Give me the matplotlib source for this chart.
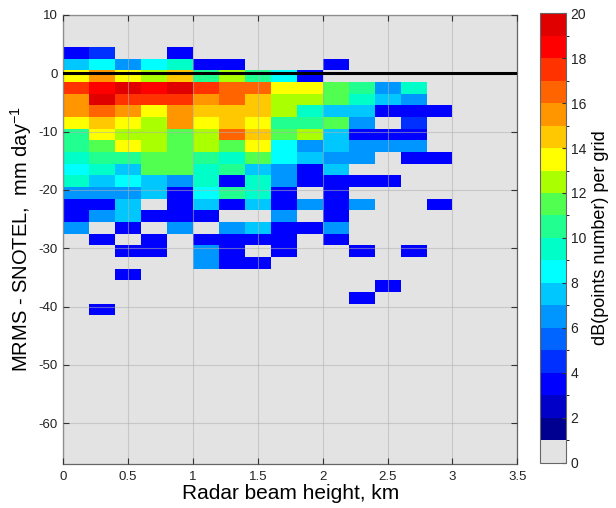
import numpy as np
import matplotlib
matplotlib.use("Agg")
import matplotlib.pyplot as plt
from matplotlib.colors import ListedColormap, BoundaryNorm

plt.rcParams['font.family'] = ['Liberation Sans', 'DejaVu Sans']
plt.rcParams['mathtext.default'] = 'regular'
plt.rcParams['axes.unicode_minus'] = False

# bin edges: radar beam height (km) and MRMS - SNOTEL difference (mm/day)
height_edges = np.arange(0, 3.01, 0.2)
diff_edges = np.arange(4.5, -42.0, -2.0)

# dB(points number) per grid cell, one row per difference bin (top -> bottom),
# one column per height bin (0-0.2 km ... 2.8-3.0 km); 0 = no points
db_grid = [
    [3.5, 4.5, 0, 0, 3.5, 0, 0, 0, 0, 0, 0, 0, 0, 0, 0],
    [7.5, 8.5, 6.5, 8.5, 9.5, 3.5, 3.5, 0, 0, 0, 3.5, 0, 0, 0, 0],
    [13.5, 15.5, 13.5, 12.5, 14.5, 10.5, 12.5, 10.5, 8.5, 3.5, 0, 0, 0, 0, 0],
    [17.5, 18.5, 19.5, 18.5, 19.5, 17.5, 16.5, 16.5, 13.5, 13.5, 11.5, 10.5, 6.5, 9.5, 0],
    [15.5, 19.5, 17.5, 17.5, 17.5, 15.5, 16.5, 14.5, 12.5, 12.5, 11.5, 9.5, 7.5, 6.5, 0],
    [15.5, 16.5, 15.5, 13.5, 15.5, 14.5, 14.5, 14.5, 12.5, 9.5, 7.5, 7.5, 3.5, 3.5, 3.5],
    [13.5, 14.5, 13.5, 12.5, 15.5, 13.5, 14.5, 13.5, 10.5, 10.5, 11.5, 6.5, 0, 4.5, 0],
    [10.5, 13.5, 12.5, 12.5, 11.5, 12.5, 16.5, 14.5, 11.5, 12.5, 7.5, 3.5, 3.5, 3.5, 0],
    [10.5, 11.5, 13.5, 12.5, 11.5, 12.5, 11.5, 13.5, 8.5, 6.5, 7.5, 6.5, 6.5, 6.5, 0],
    [9.5, 10.5, 10.5, 11.5, 11.5, 10.5, 9.5, 11.5, 8.5, 7.5, 6.5, 6.5, 0, 3.5, 3.5],
    [8.5, 9.5, 7.5, 11.5, 11.5, 9.5, 10.5, 7.5, 6.5, 3.5, 7.5, 0, 0, 0, 0],
    [9.5, 7.5, 8.5, 7.5, 6.5, 9.5, 3.5, 9.5, 6.5, 3.5, 3.5, 3.5, 3.5, 0, 0],
    [6.5, 6.5, 6.5, 7.5, 3.5, 8.5, 10.5, 9.5, 3.5, 0, 3.5, 0, 0, 0, 0],
    [3.5, 3.5, 7.5, 0, 3.5, 7.5, 3.5, 7.5, 3.5, 6.5, 3.5, 6.5, 0, 0, 3.5],
    [3.5, 6.5, 7.5, 3.5, 3.5, 3.5, 0, 0, 6.5, 0, 3.5, 0, 0, 0, 0],
    [6.5, 0, 3.5, 0, 6.5, 0, 6.5, 7.5, 3.5, 3.5, 6.5, 0, 0, 0, 0],
    [0, 3.5, 0, 3.5, 0, 3.5, 3.5, 3.5, 3.5, 0, 3.5, 0, 0, 0, 0],
    [0, 0, 3.5, 3.5, 0, 6.5, 3.5, 0, 3.5, 0, 0, 3.5, 0, 3.5, 0],
    [0, 0, 0, 0, 0, 6.5, 3.5, 3.5, 0, 0, 0, 0, 0, 0, 0],
    [0, 0, 3.5, 0, 0, 0, 0, 0, 0, 0, 0, 0, 0, 0, 0],
    [0, 0, 0, 0, 0, 0, 0, 0, 0, 0, 0, 0, 3.5, 0, 0],
    [0, 0, 0, 0, 0, 0, 0, 0, 0, 0, 0, 3.5, 0, 0, 0],
    [0, 3.5, 0, 0, 0, 0, 0, 0, 0, 0, 0, 0, 0, 0, 0],
]

# colormap: gray for 0-1, then jet-like steps for 1-20
level_colors = ['#e3e3e3',
                '#000090', '#0000c8', '#0000ff', '#0030ff', '#0064ff',
                '#0096ff', '#00c8ff', '#00ffff', '#00ffc8', '#20ff90',
                '#50ff50', '#aaff00', '#ffff00', '#ffc800', '#ff9600',
                '#ff6400', '#ff3200', '#ff0000', '#e00000']
cmap = ListedColormap(level_colors)
norm = BoundaryNorm(np.arange(0, 21, 1), cmap.N)

fig = plt.figure(figsize=(6.16, 5.08), dpi=100)
ax = fig.add_axes([0.1028, 0.0866, 0.737, 0.884])
ax.set_facecolor('#e3e3e3')

grid = np.ma.masked_equal(np.array(db_grid), 0)
ax.pcolormesh(height_edges, diff_edges, grid, cmap=cmap, norm=norm, zorder=1)

ax.axhline(0, color='black', lw=2.2, zorder=3)

ax.set_xlim(0, 3.5)
ax.set_ylim(-67, 10)
ax.set_xticks(np.arange(0, 3.51, 0.5))
ax.set_xticklabels(['0', '0.5', '1', '1.5', '2', '2.5', '3', '3.5'])
ax.set_yticks(np.arange(-60, 11, 10))
ax.grid(True, color='#b0b0b0', lw=0.8, alpha=0.55, zorder=2)
ax.set_axisbelow(False)
ax.tick_params(direction='in', top=True, right=True, length=4, width=0.8,
               labelsize=9.5, colors='#333333', labelcolor='#222222')
ax.tick_params(axis='x', pad=5)
ax.tick_params(axis='y', pad=4)
for s in ax.spines.values():
    s.set_color('#666666')
    s.set_linewidth(0.9)

ax.set_xlabel('Radar beam height, km', fontsize=15, labelpad=1)
ax.set_ylabel('MRMS - SNOTEL,  mm day$^{-1}$', fontsize=14.5)
ax.yaxis.set_label_coords(-0.064, 0.5)

cax = fig.add_axes([0.8766, 0.0886, 0.0417, 0.8858])
cb = fig.colorbar(plt.cm.ScalarMappable(norm=norm, cmap=cmap), cax=cax,
                  ticks=np.arange(0, 21, 2))
cb.outline.set_edgecolor('#666666')
cb.ax.tick_params(direction='in', length=3, labelsize=10, colors='#333333',
                  labelcolor='#222222')
cb.set_label('dB(points number) per grid', fontsize=13)

fig.savefig('out.png', dpi=100)
